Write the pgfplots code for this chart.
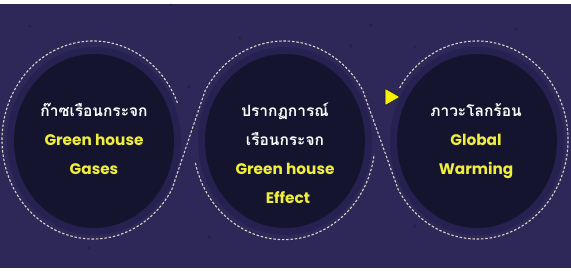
\documentclass[border=0pt]{standalone}
\usepackage{pgfplots}
\pgfplotsset{compat=1.18}
\usepackage{fontspec}
\newfontfamily\thaifont[Script=Thai]{Loma}
\newfontfamily\enfont{Poppins}
\definecolor{bg}{HTML}{2D2858}
\definecolor{band}{HTML}{262150}
\definecolor{dark}{HTML}{14142F}
\definecolor{dashc}{HTML}{D8D4C8}
\definecolor{ylw}{HTML}{F0EE3C}
\definecolor{arrowc}{HTML}{F7EF05}
\definecolor{starc}{HTML}{7A75B0}
\begin{document}
\begin{tikzpicture}
\begin{axis}[width=571bp, height=276bp, scale only axis,
  xmin=0, xmax=571, ymin=0, ymax=276, hide axis, clip=false]
% background
\fill[white] (axis cs:0,0) rectangle (axis cs:571,276);
\fill[bg] (axis cs:0,8) rectangle (axis cs:571,272);
% stars
\addplot[only marks, mark=*, mark size=1.0bp, draw=none, fill=starc, opacity=0.6]
  coordinates {(240,238) (189,189) (351,230) (415,229) (516,247) (371,251) (89,28) (209,39) (415,50) (171,271) (30,250) (540,60) (150,110)};
% bands and dark circles
\fill[band] (axis cs:94,135) ellipse [x radius=87bp, y radius=94bp];
\fill[band] (axis cs:285,135) ellipse [x radius=87bp, y radius=94bp];
\fill[band] (axis cs:477,135) ellipse [x radius=87bp, y radius=94bp];
\fill[dark] (axis cs:94,135) ellipse [x radius=80bp, y radius=87bp];
\fill[dark] (axis cs:285,135) ellipse [x radius=80bp, y radius=87bp];
\fill[dark] (axis cs:477,135) ellipse [x radius=80bp, y radius=87bp];
% dashed S path
\draw[dashc, line width=1.1bp, dash pattern=on 2.5bp off 1.8bp]
  (axis cs:177.4,173.1) arc[start angle=22, end angle=330, x radius=91bp, y radius=99bp]
  -- (axis cs:205.2,185.5) arc[start angle=150, end angle=30, x radius=91bp, y radius=99bp]
  -- (axis cs:398.2,86.5) arc[start angle=210, end angle=509, x radius=91bp, y radius=99bp];
\draw[dashc, line width=1.1bp, dash pattern=on 2.5bp off 1.8bp]
  (axis cs:195.4,113.1) arc[start angle=193, end angle=352, x radius=91bp, y radius=99bp];
% arrow
\addplot[only marks, mark=triangle*, mark size=9.8bp, draw=none, fill=arrowc, mark options={rotate=-90}]
  coordinates {(390,179)};
% texts
\node[anchor=base, white, font=\thaifont\bfseries\fontsize{15.5bp}{18bp}\selectfont] at (axis cs:94,159.5) {ก๊าซเรือนกระจก};
\node[anchor=base, ylw, font=\enfont\bfseries\fontsize{15.3bp}{18bp}\selectfont] at (axis cs:94,130.3) {Green house};
\node[anchor=base, ylw, font=\enfont\bfseries\fontsize{15.3bp}{18bp}\selectfont] at (axis cs:94,101.2) {Gases};
\node[anchor=base, white, font=\thaifont\bfseries\fontsize{15.5bp}{18bp}\selectfont] at (axis cs:285,159.5) {ปรากฏการณ์};
\node[anchor=base, white, font=\thaifont\bfseries\fontsize{15.5bp}{18bp}\selectfont] at (axis cs:285,130.3) {เรือนกระจก};
\node[anchor=base, ylw, font=\enfont\bfseries\fontsize{15.3bp}{18bp}\selectfont] at (axis cs:285,101.2) {Green house};
\node[anchor=base, ylw, font=\enfont\bfseries\fontsize{15.3bp}{18bp}\selectfont] at (axis cs:288,72.5) {Effect};
\node[anchor=base, white, font=\thaifont\bfseries\fontsize{15.5bp}{18bp}\selectfont] at (axis cs:476,159.5) {ภาวะโลกร้อน};
\node[anchor=base, ylw, font=\enfont\bfseries\fontsize{15.3bp}{18bp}\selectfont] at (axis cs:476,130.3) {Global};
\node[anchor=base, ylw, font=\enfont\bfseries\fontsize{15.3bp}{18bp}\selectfont] at (axis cs:476,101.2) {Warming};
\end{axis}
\pgfresetboundingbox
\path[use as bounding box] (current axis.south west) rectangle (current axis.north east);
\end{tikzpicture}
\end{document}
